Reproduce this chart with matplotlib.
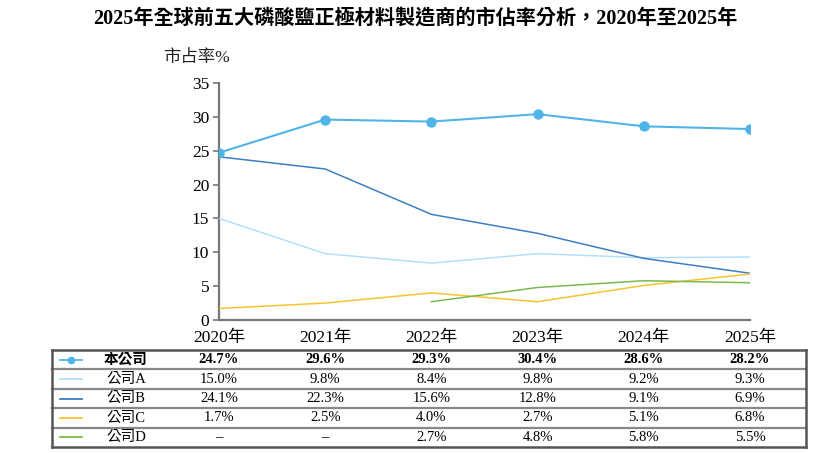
import numpy as np
import matplotlib
matplotlib.use('Agg')
import matplotlib.pyplot as plt
import matplotlib.transforms as mtransforms
from matplotlib.lines import Line2D

plt.rcParams['font.family'] = ['Liberation Serif', 'Noto Sans CJK TC', 'DejaVu Sans']

years = [2020, 2021, 2022, 2023, 2024, 2025]
year_labels = ['2020年', '2021年', '2022年', '2023年', '2024年', '2025年']
names = ['本公司', '公司A', '公司B', '公司C', '公司D']
own = [24.7, 29.6, 29.3, 30.4, 28.6, 28.2]
comp_a = [15.0, 9.8, 8.4, 9.8, 9.2, 9.3]
comp_b = [24.1, 22.3, 15.6, 12.8, 9.1, 6.9]
comp_c = [1.7, 2.5, 4.0, 2.7, 5.1, 6.8]
comp_d = [None, None, 2.7, 4.8, 5.8, 5.5]
colors = ['#4fb5e8', '#b3e0f7', '#3d7fc4', '#f7c331', '#7db84f']

series = [own, comp_a, comp_b, comp_c, comp_d]

fig = plt.figure(figsize=(8.3, 4.53), dpi=100)
ax = fig.add_axes([0.2639, 0.2936, 0.6397, 0.5232])

for i, vals in enumerate(series):
    y = np.array([np.nan if v is None else v for v in vals], dtype=float)
    if i == 0:
        ax.plot(years, y, color=colors[i], lw=1.5, marker='o', ms=6.5, zorder=5)
    else:
        ax.plot(years, y, color=colors[i], lw=1.1, zorder=3)

ax.set_xlim(2020, 2025)
ax.set_ylim(0, 35)
ax.set_yticks(range(0, 36, 5))
ax.set_xticks(years)
ax.set_xticklabels(year_labels)
ax.tick_params(axis='x', length=0, pad=7, labelsize=12.5)
ax.tick_params(axis='y', length=4, width=1.2, color='#777777', pad=3, labelsize=12.5)
for s in ['top', 'right']:
    ax.spines[s].set_visible(False)
for s in ['left', 'bottom']:
    ax.spines[s].set_color('#777777')
    ax.spines[s].set_linewidth(1.6)

fig.text(0.5, 0.96, '2025年全球前五大磷酸鹽正極材料製造商的市佔率分析，2020年至2025年',
         ha='center', va='center', fontsize=14.5, fontweight='bold')
fig.text(0.197, 0.873, '市占率%', ha='left', va='center', fontsize=12.5, color='#222222')

# table below the chart
H = 453.0
top_px, row_h = 350.0, 19.4
left_f, right_f = 52 / 830, 806 / 830
bt = mtransforms.blended_transform_factory(ax.transData, fig.transFigure)

n = len(names)
bottom_px = top_px + row_h * n
for k in range(n + 1):
    yy = 1 - (top_px + k * row_h) / H
    outer = k in (0, n)
    fig.add_artist(Line2D([left_f, right_f], [yy, yy], transform=fig.transFigure,
                          color='#555555' if outer else '#888888', lw=1.8 if outer else 1.6))
for xx in (left_f, right_f):
    fig.add_artist(Line2D([xx, xx], [1 - top_px / H, 1 - bottom_px / H],
                          transform=fig.transFigure, color='#555555', lw=1.8))

for i, (name, vals) in enumerate(zip(names, series)):
    yc = 1 - (top_px + (i + 0.5) * row_h) / H
    weight = 'bold' if i == 0 else 'normal'
    fig.add_artist(Line2D([60 / 830, 82 / 830], [yc, yc], transform=fig.transFigure,
                          color=colors[i], lw=1.3))
    if i == 0:
        fig.add_artist(Line2D([71 / 830], [yc], transform=fig.transFigure, marker='o',
                              ms=4.5, color=colors[0], lw=0))
    fig.text(126 / 830, yc, name, ha='center', va='center', fontsize=10.5, fontweight=weight)
    for yr, v in zip(years, vals):
        txt = '–' if v is None else f'{v:.1f}%'
        ax.text(yr, yc, txt, transform=bt, ha='center', va='center',
                fontsize=10.5, fontweight=weight, clip_on=False)

fig.savefig('out.png', dpi=100)
